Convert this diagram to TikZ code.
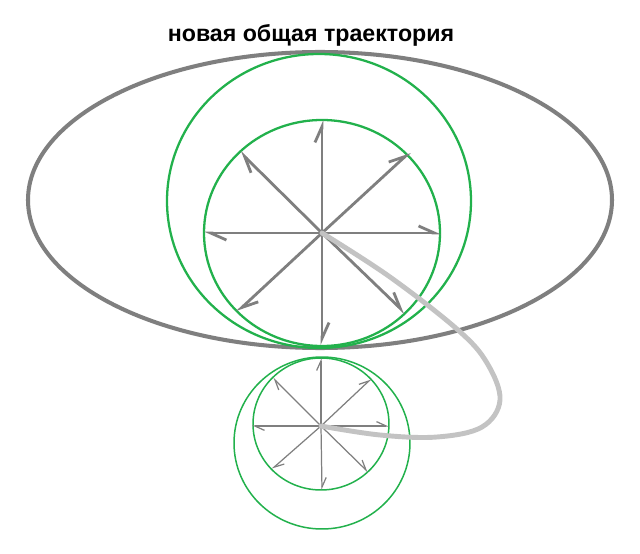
\documentclass[tikz,border=0pt]{standalone}
\usepackage{fontspec}
\setmainfont{Liberation Sans}
\usetikzlibrary{arrows.meta}
\definecolor{paintgreen}{RGB}{34,177,76}
\definecolor{paintgray}{RGB}{127,127,127}
\definecolor{palegray}{RGB}{195,195,195}

\begin{document}
\begin{tikzpicture}[x=0.02cm, y=-0.02cm]
\tikzset{orbite/.style={draw=paintgray, line width=2.3pt},
  cercle/.style={draw=paintgreen, line width=1.3pt},
  petitcercle/.style={draw=paintgreen, line width=0.85pt},
  rayon/.style={draw=paintgray, line width=1.6pt, -{Straight Barb[left, length=9pt, width=8pt]}},
  petitrayon/.style={draw=paintgray, line width=0.7pt, -{Straight Barb[left, length=5.5pt, width=5pt]}},
  trace/.style={draw=palegray, line width=2.8pt, line cap=round}}
\useasboundingbox (0,0) rectangle (640,554);
\node[font=\bfseries\fontsize{13.2}{16}\selectfont] (titre) at (311,35) {новая общая траектория};
\draw[orbite] (320,200) ellipse [x radius=292, y radius=148];
\draw[cercle] (319,201) ellipse [x radius=152, y radius=147];
\draw[cercle] (322,233) ellipse [x radius=118, y radius=113];
\draw[petitcercle] (322,443) ellipse [x radius=88, y radius=86];
\draw[petitcercle] (321,424) ellipse [x radius=68, y radius=66];
\coordinate (H1) at (322,233);
\coordinate (A1) at (322,120);
\coordinate (A2) at (410,152);
\coordinate (A3) at (441,233);
\coordinate (A4) at (405,313);
\coordinate (A5) at (322,345);
\coordinate (A6) at (237,312);
\coordinate (A7) at (204,233);
\coordinate (A8) at (240,152);
\draw[rayon] (H1) -- (A1);
\draw[rayon] (H1) -- (A2);
\draw[rayon] (H1) -- (A3);
\draw[rayon] (H1) -- (A4);
\draw[rayon] (H1) -- (A5);
\draw[rayon] (H1) -- (A6);
\draw[rayon] (H1) -- (A7);
\draw[rayon] (H1) -- (A8);
\coordinate (H2) at (321,426);
\coordinate (B1) at (321,358);
\coordinate (B2) at (371,379);
\coordinate (B3) at (389,426);
\coordinate (B4) at (368,472);
\coordinate (B5) at (322,490);
\coordinate (B6) at (272,469);
\coordinate (B7) at (252,426);
\coordinate (B8) at (273,378);
\draw[petitrayon] (H2) -- (B1);
\draw[petitrayon] (H2) -- (B2);
\draw[petitrayon] (H2) -- (B3);
\draw[petitrayon] (H2) -- (B4);
\draw[petitrayon] (H2) -- (B5);
\draw[petitrayon] (H2) -- (B6);
\draw[petitrayon] (H2) -- (B7);
\draw[petitrayon] (H2) -- (B8);
\draw[trace] plot[smooth, tension=0.6] coordinates {(H1) (390,277) (458,330) (487,363) (500,400) (482,427) (437,437) (380,435) (H2)};
\end{tikzpicture}
\end{document}
